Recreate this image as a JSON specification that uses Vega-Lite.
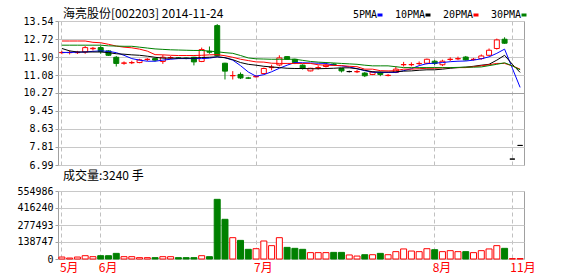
{
  "$schema": "https://vega.github.io/schema/vega-lite/v6.json",
  "background": "white",
  "padding": {"left": 5, "top": 7, "right": 5, "bottom": 2},
  "config": {
    "view": {"stroke": "#A0A0A0"},
    "axis": {"labelFont": "DejaVu Sans Mono", "labelFontSize": 10, "labelColor": "#000000", "tickColor": "#A0A0A0", "tickSize": 3, "domain": false, "gridColor": "#C8C8C8", "title": null, "labelOverlap": false},
    "title": {"font": "Noto Sans CJK SC", "fontSize": 12, "fontWeight": "normal", "anchor": "start", "color": "#000000", "frame": "group"}
  },
  "datasets": {
    "k": [
      {"d":"2014-05-26","o":12.10,"c":12.11,"h":12.18,"l":12.03,"vol":16000,"dir":"up","m5":12.11,"m10":12.29,"m20":12.63,"m30":12.44},
      {"d":"2014-05-27","o":12.10,"c":12.11,"h":12.20,"l":12.02,"vol":8000,"dir":"up","m5":12.11,"m10":12.18,"m20":12.63,"m30":12.44},
      {"d":"2014-05-28","o":12.10,"c":12.12,"h":12.18,"l":12.04,"vol":16000,"dir":"up","m5":12.12,"m10":12.13,"m20":12.63,"m30":12.44},
      {"d":"2014-05-29","o":12.13,"c":12.33,"h":12.40,"l":12.05,"vol":27000,"dir":"up","m5":12.13,"m10":12.13,"m20":12.63,"m30":12.44},
      {"d":"2014-05-30","o":12.28,"c":12.30,"h":12.36,"l":12.20,"vol":19000,"dir":"up","m5":12.16,"m10":12.13,"m20":12.57,"m30":12.44},
      {"d":"2014-06-03","o":12.33,"c":12.15,"h":12.40,"l":12.05,"vol":27000,"dir":"down","m5":12.18,"m10":12.13,"m20":12.55,"m30":12.44},
      {"d":"2014-06-04","o":12.18,"c":11.98,"h":12.21,"l":11.95,"vol":27000,"dir":"down","m5":12.16,"m10":12.10,"m20":12.48,"m30":12.41},
      {"d":"2014-06-05","o":11.89,"c":11.61,"h":11.95,"l":11.47,"vol":46000,"dir":"down","m5":12.10,"m10":12.05,"m20":12.40,"m30":12.40},
      {"d":"2014-06-06","o":11.62,"c":11.63,"h":11.70,"l":11.55,"vol":19000,"dir":"up","m5":11.98,"m10":12.03,"m20":12.35,"m30":12.39},
      {"d":"2014-06-09","o":11.64,"c":11.65,"h":11.73,"l":11.58,"vol":19000,"dir":"up","m5":11.83,"m10":12.00,"m20":12.32,"m30":12.39},
      {"d":"2014-06-10","o":11.65,"c":11.77,"h":11.82,"l":11.62,"vol":11000,"dir":"up","m5":11.76,"m10":11.98,"m20":12.26,"m30":12.35},
      {"d":"2014-06-11","o":11.79,"c":11.80,"h":11.85,"l":11.72,"vol":11000,"dir":"up","m5":11.71,"m10":11.94,"m20":12.17,"m30":12.31},
      {"d":"2014-06-12","o":11.83,"c":11.76,"h":11.86,"l":11.70,"vol":11000,"dir":"down","m5":11.71,"m10":11.89,"m20":12.01,"m30":12.27},
      {"d":"2014-06-13","o":11.70,"c":11.89,"h":11.99,"l":11.59,"vol":19000,"dir":"up","m5":11.76,"m10":11.85,"m20":12.00,"m30":12.25},
      {"d":"2014-06-16","o":11.87,"c":11.88,"h":11.94,"l":11.80,"vol":19000,"dir":"up","m5":11.80,"m10":11.85,"m20":11.98,"m30":12.23},
      {"d":"2014-06-17","o":11.86,"c":11.85,"h":11.90,"l":11.82,"vol":11000,"dir":"down","m5":11.83,"m10":11.85,"m20":11.97,"m30":12.22},
      {"d":"2014-06-18","o":11.85,"c":11.84,"h":11.88,"l":11.80,"vol":11000,"dir":"down","m5":11.83,"m10":11.85,"m20":11.97,"m30":12.21},
      {"d":"2014-06-19","o":11.89,"c":11.68,"h":11.91,"l":11.52,"vol":11000,"dir":"down","m5":11.83,"m10":11.85,"m20":11.97,"m30":12.20},
      {"d":"2014-06-20","o":11.70,"c":12.24,"h":12.33,"l":11.67,"vol":27000,"dir":"up","m5":11.83,"m10":11.88,"m20":11.98,"m30":12.20},
      {"d":"2014-06-23","o":12.16,"c":12.12,"h":12.38,"l":12.05,"vol":19000,"dir":"down","m5":11.85,"m10":11.89,"m20":12.00,"m30":12.17},
      {"d":"2014-06-24","o":13.33,"c":11.97,"h":13.40,"l":11.95,"vol":487000,"dir":"down","m5":11.91,"m10":11.91,"m20":12.01,"m30":12.14},
      {"d":"2014-06-25","o":11.62,"c":11.26,"h":11.64,"l":10.88,"vol":324000,"dir":"down","m5":11.87,"m10":11.87,"m20":11.96,"m30":12.10},
      {"d":"2014-06-26","o":11.05,"c":11.06,"h":11.26,"l":10.88,"vol":174000,"dir":"up","m5":11.76,"m10":11.78,"m20":11.89,"m30":12.07},
      {"d":"2014-06-27","o":11.11,"c":10.95,"h":11.20,"l":10.90,"vol":152000,"dir":"down","m5":11.51,"m10":11.65,"m20":11.80,"m30":11.97},
      {"d":"2014-06-30","o":10.95,"c":10.94,"h":11.00,"l":10.90,"vol":79000,"dir":"down","m5":11.22,"m10":11.57,"m20":11.74,"m30":11.86},
      {"d":"2014-07-01","o":11.00,"c":11.02,"h":11.08,"l":10.97,"vol":84000,"dir":"up","m5":11.03,"m10":11.53,"m20":11.68,"m30":11.82},
      {"d":"2014-07-02","o":11.15,"c":11.38,"h":11.42,"l":11.12,"vol":147000,"dir":"up","m5":11.10,"m10":11.48,"m20":11.67,"m30":11.81},
      {"d":"2014-07-03","o":11.42,"c":11.44,"h":11.55,"l":11.30,"vol":109000,"dir":"up","m5":11.23,"m10":11.45,"m20":11.62,"m30":11.80},
      {"d":"2014-07-04","o":11.54,"c":11.86,"h":11.98,"l":11.48,"vol":174000,"dir":"up","m5":11.39,"m10":11.42,"m20":11.61,"m30":11.80},
      {"d":"2014-07-07","o":11.92,"c":11.80,"h":11.94,"l":11.78,"vol":95000,"dir":"down","m5":11.53,"m10":11.39,"m20":11.61,"m30":11.80},
      {"d":"2014-07-08","o":11.80,"c":11.65,"h":11.82,"l":11.58,"vol":87000,"dir":"down","m5":11.65,"m10":11.38,"m20":11.61,"m30":11.80},
      {"d":"2014-07-09","o":11.53,"c":11.38,"h":11.57,"l":11.33,"vol":79000,"dir":"down","m5":11.64,"m10":11.38,"m20":11.61,"m30":11.75},
      {"d":"2014-07-10","o":11.27,"c":11.39,"h":11.41,"l":11.25,"vol":52000,"dir":"up","m5":11.63,"m10":11.37,"m20":11.61,"m30":11.70},
      {"d":"2014-07-11","o":11.41,"c":11.42,"h":11.52,"l":11.33,"vol":52000,"dir":"up","m5":11.62,"m10":11.37,"m20":11.55,"m30":11.67},
      {"d":"2014-07-14","o":11.47,"c":11.54,"h":11.58,"l":11.42,"vol":52000,"dir":"up","m5":11.61,"m10":11.38,"m20":11.53,"m30":11.65},
      {"d":"2014-07-15","o":11.58,"c":11.56,"h":11.62,"l":11.52,"vol":54000,"dir":"down","m5":11.53,"m10":11.39,"m20":11.52,"m30":11.63},
      {"d":"2014-07-16","o":11.38,"c":11.27,"h":11.40,"l":11.20,"vol":54000,"dir":"down","m5":11.50,"m10":11.41,"m20":11.51,"m30":11.61},
      {"d":"2014-07-17","o":11.24,"c":11.24,"h":11.28,"l":11.20,"vol":33000,"dir":"flat","m5":11.45,"m10":11.41,"m20":11.48,"m30":11.59},
      {"d":"2014-07-18","o":11.23,"c":11.24,"h":11.31,"l":11.17,"vol":24000,"dir":"up","m5":11.37,"m10":11.37,"m20":11.46,"m30":11.57},
      {"d":"2014-07-21","o":11.17,"c":11.05,"h":11.22,"l":10.99,"vol":35000,"dir":"down","m5":11.28,"m10":11.30,"m20":11.35,"m30":11.53},
      {"d":"2014-07-22","o":11.11,"c":11.22,"h":11.25,"l":11.08,"vol":35000,"dir":"up","m5":11.21,"m10":11.23,"m20":11.35,"m30":11.50},
      {"d":"2014-07-23","o":11.20,"c":11.11,"h":11.24,"l":11.03,"vol":46000,"dir":"down","m5":11.20,"m10":11.22,"m20":11.28,"m30":11.50},
      {"d":"2014-07-24","o":11.06,"c":11.07,"h":11.13,"l":11.02,"vol":35000,"dir":"up","m5":11.20,"m10":11.22,"m20":11.27,"m30":11.50},
      {"d":"2014-07-25","o":11.20,"c":11.35,"h":11.47,"l":11.17,"vol":60000,"dir":"up","m5":11.20,"m10":11.23,"m20":11.28,"m30":11.46},
      {"d":"2014-07-28","o":11.55,"c":11.56,"h":11.68,"l":11.47,"vol":82000,"dir":"up","m5":11.28,"m10":11.26,"m20":11.35,"m30":11.42},
      {"d":"2014-07-29","o":11.55,"c":11.56,"h":11.66,"l":11.48,"vol":65000,"dir":"up","m5":11.37,"m10":11.27,"m20":11.35,"m30":11.42},
      {"d":"2014-07-30","o":11.60,"c":11.61,"h":11.70,"l":11.53,"vol":60000,"dir":"up","m5":11.51,"m10":11.30,"m20":11.37,"m30":11.42},
      {"d":"2014-07-31","o":11.62,"c":11.80,"h":11.83,"l":11.57,"vol":84000,"dir":"up","m5":11.60,"m10":11.32,"m20":11.39,"m30":11.42},
      {"d":"2014-08-01","o":11.71,"c":11.61,"h":11.77,"l":11.54,"vol":76000,"dir":"down","m5":11.62,"m10":11.32,"m20":11.39,"m30":11.42},
      {"d":"2014-08-04","o":11.55,"c":11.71,"h":11.78,"l":11.49,"vol":60000,"dir":"up","m5":11.65,"m10":11.35,"m20":11.41,"m30":11.42},
      {"d":"2014-08-05","o":11.79,"c":11.80,"h":11.89,"l":11.72,"vol":68000,"dir":"up","m5":11.69,"m10":11.39,"m20":11.42,"m30":11.42},
      {"d":"2014-08-06","o":11.82,"c":11.83,"h":11.92,"l":11.76,"vol":60000,"dir":"up","m5":11.71,"m10":11.42,"m20":11.42,"m30":11.43},
      {"d":"2014-08-07","o":11.90,"c":11.77,"h":11.95,"l":11.74,"vol":60000,"dir":"down","m5":11.72,"m10":11.44,"m20":11.42,"m30":11.44},
      {"d":"2014-08-08","o":11.79,"c":11.80,"h":11.86,"l":11.74,"vol":52000,"dir":"up","m5":11.76,"m10":11.48,"m20":11.46,"m30":11.44},
      {"d":"2014-08-11","o":11.83,"c":11.95,"h":12.02,"l":11.78,"vol":68000,"dir":"up","m5":11.82,"m10":11.53,"m20":11.50,"m30":11.45},
      {"d":"2014-08-12","o":11.98,"c":12.21,"h":12.29,"l":11.95,"vol":82000,"dir":"up","m5":11.91,"m10":11.57,"m20":11.55,"m30":11.51},
      {"d":"2014-08-13","o":12.29,"c":12.68,"h":12.74,"l":12.24,"vol":109000,"dir":"up","m5":12.07,"m10":11.76,"m20":11.61,"m30":11.57},
      {"d":"2014-08-14","o":12.71,"c":12.53,"h":12.80,"l":12.50,"vol":87000,"dir":"down","m5":12.26,"m10":11.98,"m20":11.61,"m30":11.64},
      {"d":"2014-11-21","o":7.26,"c":7.26,"h":7.26,"l":7.26,"vol":3000,"dir":"flat","m5":11.39,"m10":11.57,"m20":11.50,"m30":11.50},
      {"d":"2014-11-24","o":7.88,"c":7.88,"h":7.88,"l":7.88,"vol":3240,"dir":"flat","m5":10.52,"m10":11.20,"m20":11.35,"m30":11.32}
    ]
  },
  "spacing": -2,
  "resolve": {"scale": {"fill": "independent", "stroke": "independent"}},
  "vconcat": [
    {
      "width": 466,
      "height": 144,
      "title": {"text": "海亮股份[002203] 2014-11-24", "offset": -5, "dx": 5},
      "data": {"name": "k"},
      "encoding": {
        "x": {
          "field": "d", "type": "ordinal",
          "scale": {"paddingInner": 0, "paddingOuter": 0},
          "axis": {"values": ["2014-05-26", "2014-06-03", "2014-07-01", "2014-08-01", "2014-11-21"], "labels": false, "ticks": false, "grid": true, "gridDash": [4, 3], "gridColor": "#C0C0C0", "bandPosition": 0.5, "minExtent": 0, "maxExtent": 0}
        }
      },
      "layer": [
        {
          "mark": {"type": "rule", "strokeWidth": 1},
          "encoding": {
            "y": {
              "field": "l", "type": "quantitative",
              "scale": {"domain": [6.99, 13.54], "nice": false, "zero": false},
              "axis": {
                "values": [6.99, 7.81, 8.63, 9.45, 10.27, 11.08, 11.9, 12.72, 13.54], "tickCount": 20,
                "format": ".2f", "minExtent": 52, "maxExtent": 52, "labelPadding": 2, "grid": true, "labelOverlap": false,
                "gridColor": {"condition": {"test": "datum.value == 10.27", "value": "#A0A0A0"}, "value": "#C8C8C8"}
              }
            },
            "y2": {"field": "h"},
            "stroke": {"field": "dir", "type": "nominal", "scale": {"domain": ["up", "down", "flat"], "range": ["#FF0000", "#008000", "#000000"]}, "legend": null}
          }
        },
        {
          "mark": {"type": "bar", "size": 5, "strokeWidth": 1},
          "encoding": {
            "y": {"field": "o", "type": "quantitative"},
            "y2": {"field": "c"},
            "fill": {"field": "dir", "type": "nominal", "scale": {"domain": ["up", "down", "flat"], "range": ["#FFFFFF", "#008000", "#000000"]}, "legend": null},
            "stroke": {"field": "dir", "type": "nominal", "legend": null}
          }
        },
        {
          "transform": [{"fold": ["m5", "m10", "m20", "m30"], "as": ["ma", "val"]}],
          "mark": {"type": "line", "strokeWidth": 1},
          "encoding": {
            "y": {"field": "val", "type": "quantitative"},
            "color": {
              "field": "ma", "type": "nominal",
              "scale": {"domain": ["m5", "m10", "m20", "m30"], "range": ["#0000FF", "#000000", "#FF0000", "#008000"]},
              "legend": {
                "orient": "none", "legendX": 317, "legendY": -11, "direction": "horizontal", "title": null,
                "labelFont": "DejaVu Sans Mono", "labelFontSize": 10, "labelColor": "#000000",
                "symbolType": "stroke", "symbolStrokeWidth": 3, "symbolSize": 25,
                "labelAlign": "right", "labelOffset": -8, "columnPadding": 5, "padding": 0,
                "labelExpr": "{'m5':'5PMA','m10':'10PMA','m20':'20PMA','m30':'30PMA'}[datum.label]"
              }
            }
          }
        }
      ]
    },
    {
      "width": 466,
      "height": 68,
      "title": {"text": "成交量:3240 手", "offset": 3, "dx": 5},
      "data": {"name": "k"},
      "mark": {"type": "bar", "size": 6, "strokeWidth": 1},
      "encoding": {
        "x": {
          "field": "d", "type": "ordinal",
          "scale": {"paddingInner": 0, "paddingOuter": 0},
          "axis": {
            "values": ["2014-05-26", "2014-06-03", "2014-07-01", "2014-08-01", "2014-11-21"],
            "labelExpr": "toNumber(substring(datum.value, 5, 7)) + '月'",
            "labelColor": "#FF0000", "labelFont": "Noto Sans CJK SC", "labelFontSize": 12, "labelAngle": 0,
            "labelAlign": "left", "labelOffset": -2, "labelPadding": 3, "ticks": false,
            "grid": true, "gridDash": [4, 3], "gridColor": "#C0C0C0", "bandPosition": 0.5
          }
        },
        "y": {
          "field": "vol", "type": "quantitative",
          "scale": {"domain": [0, 554986], "nice": false},
          "axis": {"values": [0, 138747, 277493, 416240, 554986], "tickCount": 10, "format": "d", "minExtent": 52, "maxExtent": 52, "labelPadding": 2, "grid": true, "labelOverlap": false, "gridColor": "#C8C8C8"}
        },
        "fill": {"field": "dir", "type": "nominal", "scale": {"domain": ["up", "down", "flat"], "range": ["#FFFFFF", "#008000", "#FFFFFF"]}, "legend": null},
        "stroke": {"field": "dir", "type": "nominal", "scale": {"domain": ["up", "down", "flat"], "range": ["#FF0000", "#008000", "#FF0000"]}, "legend": null}
      }
    }
  ]
}
